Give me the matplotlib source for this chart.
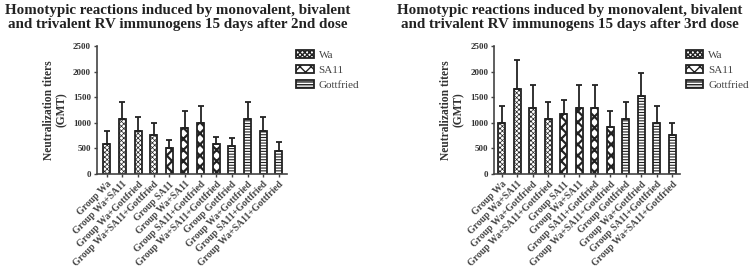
import matplotlib
matplotlib.use("Agg")
import matplotlib.pyplot as plt
from matplotlib.patches import Patch
import numpy as np

plt.rcParams['font.family'] = ['Liberation Serif', 'DejaVu Serif']

categories = ["Group Wa", "Group Wa+SA11", "Group Wa+Gottfried", "Group Wa+SA11+Gottfried",
              "Group SA11", "Group Wa+SA11", "Group SA11+Gottfried", "Group Wa+SA11+Gottfried",
              "Group Gottfried", "Group Wa+Gottfried", "Group SA11+Gottfried", "Group Wa+SA11+Gottfried"]
strain = ["Wa"] * 4 + ["SA11"] * 4 + ["Gottfried"] * 4

dose2_mean = [590, 1080, 835, 770, 500, 905, 990, 590, 540, 1075, 835, 455]
dose2_upper = [850, 1400, 1120, 990, 665, 1230, 1330, 715, 700, 1400, 1120, 620]
dose3_mean = [990, 1660, 1285, 1080, 1180, 1285, 1285, 910, 1080, 1525, 990, 770]
dose3_upper = [1335, 2235, 1740, 1410, 1440, 1740, 1740, 1230, 1410, 1980, 1335, 990]

titles = ["Homotypic reactions induced by monovalent, bivalent\nand trivalent RV immunogens 15 days after 2nd dose",
          "Homotypic reactions induced by monovalent, bivalent\nand trivalent RV immunogens 15 days after 3rd dose"]
legend_labels = ["Wa", "SA11", "Gottfried"]
yticks = [0, 500, 1000, 1500, 2000, 2500]

hatch_map = {"Wa": "xxxxxxx", "SA11": "xxx", "Gottfried": "------"}
hatch_lw = {"Wa": 0.5, "SA11": 1.6, "Gottfried": 0.8}

fig = plt.figure(figsize=(7.55, 2.69), dpi=100)
axes_pos = [[0.128, 0.353, 0.252, 0.476], [0.654, 0.353, 0.247, 0.476]]
xl = [(-0.65, 11.52), (-0.52, 11.52)]
title_x = [0.236, 0.755]
legend_anchor = [(0.392, 0.815), (0.908, 0.815)]


def make_patch(s, **kw):
    with plt.rc_context({"hatch.linewidth": hatch_lw[s]}):
        return Patch(facecolor="white", edgecolor="#222222", hatch=hatch_map[s], linewidth=1.3, **kw)


for i, (means, uppers) in enumerate([(dose2_mean, dose2_upper), (dose3_mean, dose3_upper)]):
    ax = fig.add_axes(axes_pos[i])
    x = np.arange(len(categories))
    for j in range(len(categories)):
        with plt.rc_context({"hatch.linewidth": hatch_lw[strain[j]]}):
            ax.bar(x[j], means[j], width=0.45, color="white", edgecolor="#222222",
                   linewidth=1.3, hatch=hatch_map[strain[j]], zorder=2)
        ax.errorbar(x[j], means[j], yerr=[[0], [uppers[j] - means[j]]], fmt="none",
                    ecolor="#222222", elinewidth=1.3, capsize=2.5, capthick=1.3, zorder=3)
    ax.set_xlim(*xl[i])
    ax.set_ylim(0, 2500)
    ax.set_yticks(yticks)
    ax.set_yticklabels([str(t) for t in yticks], fontsize=6.5, fontweight="bold", color="#333333")
    ax.set_xticks(x)
    ax.set_xticklabels(categories, rotation=45, ha="right", rotation_mode="anchor",
                       fontsize=7, fontweight="bold", color="#444444")
    ax.tick_params(axis="both", length=2.5, width=1, color="#444444", pad=1.5)
    for s in ["top", "right"]:
        ax.spines[s].set_visible(False)
    for s in ["left", "bottom"]:
        ax.spines[s].set_linewidth(1.2)
        ax.spines[s].set_color("#444444")
    ax.set_ylabel("Neutralization titers\n(GMT)", fontsize=8.3, fontweight="bold", color="#333333",
                  linespacing=1.1, labelpad=4)
    fig.text(title_x[i], 0.985, titles[i], ha="center", va="top", fontsize=10.8,
             fontweight="bold", color="#222222", linespacing=1.05)
    handles = [make_patch(s) for s in legend_labels]
    fig.legend(handles, legend_labels, loc="upper left", bbox_to_anchor=legend_anchor[i],
               frameon=False, fontsize=8, handlelength=1.6, handleheight=0.8,
               labelspacing=0.45, handletextpad=0.45, borderpad=0, borderaxespad=0,
               labelcolor="#444444")

fig.savefig("out.png", dpi=100)
